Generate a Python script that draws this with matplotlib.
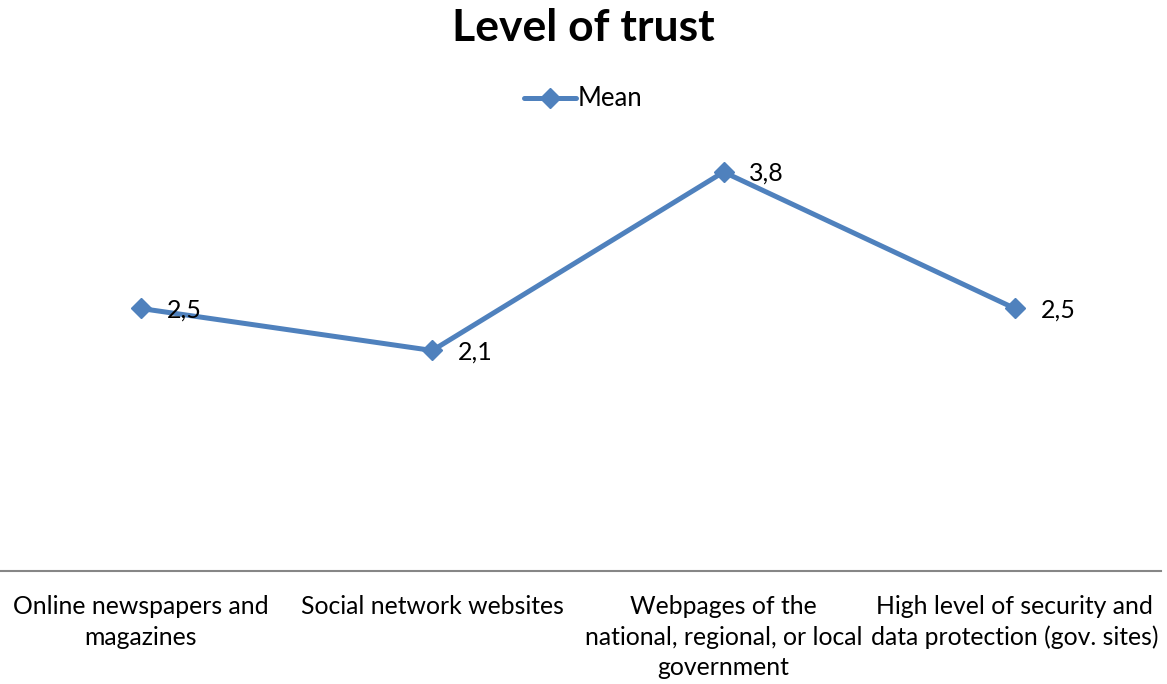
import matplotlib.pyplot as plt

categories = [
    "Online newspapers and\nmagazines",
    "Social network websites",
    "Webpages of the\nnational, regional, or local\ngovernment",
    "High level of security and\ndata protection (gov. sites)",
]
mean_values = [2.5, 2.1, 3.8, 2.5]
value_labels = ["2,5", "2,1", "3,8", "2,5"]

plt.rcParams['font.family'] = ['Lato', 'DejaVu Sans']

fig = plt.figure(figsize=(11.67, 6.84), dpi=100)
ax = fig.add_axes([0.0, 0.1652, 0.9945, 0.6908])

blue = '#4F81BD'
x = list(range(len(categories)))
ax.plot(x, mean_values, color=blue, linewidth=3.6, marker='D', markersize=10.5,
        markerfacecolor=blue, markeredgecolor=blue, label='Mean',
        solid_capstyle='round', solid_joinstyle='miter')

for xi, yi, lbl in zip(x, mean_values, value_labels):
    ax.annotate(lbl, (xi, yi), xytext=(18.5, -1), textcoords='offset points',
                ha='left', va='center', fontsize=18, color='black')

ax.set_xlim(-0.484, 3.5)
ax.set_ylim(0, 4.5)
ax.set_yticks([])
ax.set_xticks(x)
ax.set_xticklabels(categories, fontsize=17.8, linespacing=1.38)
ax.tick_params(axis='x', length=0, pad=17.5)

for side in ['top', 'right', 'left']:
    ax.spines[side].set_visible(False)
ax.spines['bottom'].set_color('#868686')
ax.spines['bottom'].set_linewidth(1.5)

fig.suptitle('Level of trust', fontsize=32, fontweight='bold', y=1 - 28 / 684, va='center')
fig.legend(loc='center', bbox_to_anchor=(0.5, 1 - 99 / 684), frameon=False,
           fontsize=18.5, handlelength=2.0, handletextpad=0.1)

fig.savefig('out.png', dpi=100)
